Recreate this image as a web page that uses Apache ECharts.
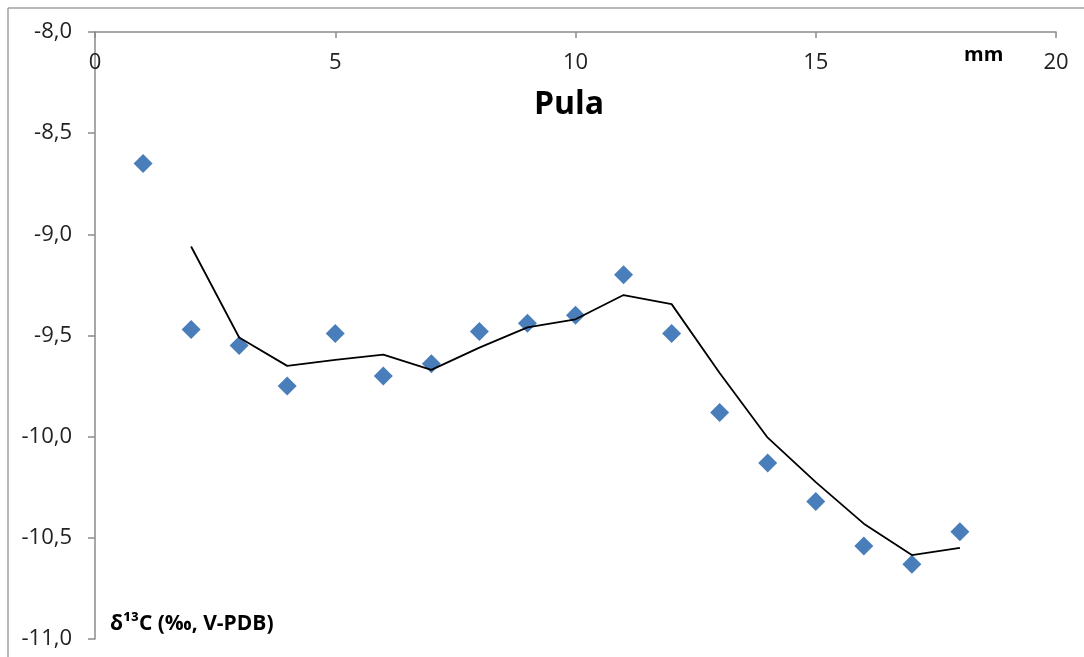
<!DOCTYPE html>
<html>
<head>
<meta charset="utf-8">
<script src="https://cdn.jsdelivr.net/npm/echarts@6/dist/echarts.min.js"></script>
<style>
html,body{margin:0;padding:0;background:#fff;overflow:hidden;}
#c{width:1084px;height:657px;}
</style>
</head>
<body>
<div id="c"></div>
<script>
const distances = [1,2,3,4,5,6,7,8,9,10,11,12,13,14,15,16,17,18];
const d13C = [-8.65,-9.47,-9.55,-9.75,-9.49,-9.70,-9.64,-9.48,-9.44,-9.40,-9.20,-9.49,-9.88,-10.13,-10.32,-10.54,-10.63,-10.47];
const avgX = [2,3,4,5,6,7,8,9,10,11,12,13,14,15,16,17,18];
const avgY = [-9.06,-9.51,-9.65,-9.62,-9.595,-9.67,-9.56,-9.46,-9.42,-9.30,-9.345,-9.685,-10.005,-10.225,-10.43,-10.585,-10.55];
const titleText = 'Pula';
const xName = 'mm';
const yName = 'δ¹³C (‰, V-PDB)';

const pts = distances.map((x,i)=>[x,d13C[i]]);
const avg = avgX.map((x,i)=>[x,avgY[i]]);
const font = '"Open Sans", sans-serif';
const axisColor = '#8a8a8a';

const chart = echarts.init(document.getElementById('c'));
chart.setOption({
  animation:false,
  backgroundColor:'#fff',
  title:{text:titleText,left:564,top:84,textAlign:'center',
    textStyle:{fontFamily:font,fontSize:32,fontWeight:'bold',color:'#000'}},
  grid:{left:95,top:32,right:28,bottom:18},
  xAxis:{type:'value',position:'top',min:0,max:20,interval:5,
    axisLine:{show:true,lineStyle:{color:axisColor,width:1.5}},
    axisTick:{show:true,inside:true,length:6,lineStyle:{color:axisColor,width:1.5}},
    axisLabel:{inside:true,margin:20,fontFamily:font,fontSize:22,color:'#222'},
    splitLine:{show:false}},
  yAxis:{type:'value',min:-11,max:-8,interval:0.5,
    axisLine:{show:true,lineStyle:{color:axisColor,width:1.5}},
    axisTick:{show:true,length:7,lineStyle:{color:axisColor,width:1.5}},
    axisLabel:{margin:23,fontFamily:font,fontSize:22,color:'#222',
      formatter:v=>v.toFixed(1).replace('.',',')},
    splitLine:{show:false}},
  graphic:[
    {type:'line',shape:{x1:8,y1:8,x2:1084,y2:8},
      style:{stroke:'#a0a0a0',lineWidth:1.5},silent:true,z:-1},
    {type:'line',shape:{x1:8,y1:8,x2:8,y2:657},
      style:{stroke:'#a0a0a0',lineWidth:1.5},silent:true,z:-1},
    {type:'text',x:964,y:55,style:{text:xName,font:'bold 20px '+font,fill:'#000',textVerticalAlign:'middle'}},
    {type:'text',x:110,y:624,style:{text:yName,font:'bold 21px '+font,fill:'#000',textVerticalAlign:'middle'}}
  ],
  series:[
    {type:'scatter',data:pts,symbol:'diamond',symbolSize:[19,19],
      itemStyle:{color:'#4a7ebb',opacity:1},z:2},
    {type:'line',data:avg,showSymbol:false,symbol:'none',
      lineStyle:{color:'#000',width:1.8},z:3}
  ]
});
</script>
</body>
</html>
